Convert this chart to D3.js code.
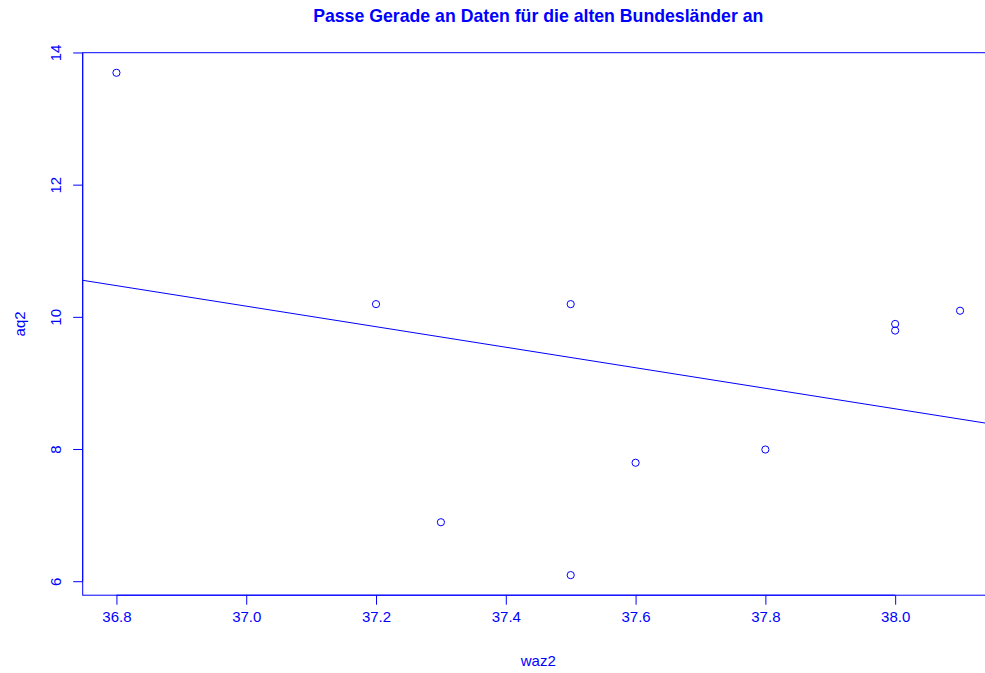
<!DOCTYPE html>
<html><head><meta charset="utf-8">
<script src="https://cdn.jsdelivr.net/npm/d3@7"></script>
<style>html,body{margin:0;padding:0;background:#fff;}svg{display:block;}</style>
</head><body>
<script>
const waz2 = [36.8, 37.2, 37.3, 37.5, 37.5, 37.6, 37.8, 38.0, 38.0, 38.1];
const aq2  = [13.7, 10.2, 6.9, 10.2, 6.1, 7.8, 8.0, 9.9, 9.8, 10.1];
const xTicks = [36.8, 37.0, 37.2, 37.4, 37.6, 37.8, 38.0];
const yTicks = [6, 8, 10, 12, 14];
const lineIntercept = 67.63;
const lineSlope = -1.553;
const titleText = "Passe Gerade an Daten für die alten Bundesländer an";
const xLabel = "waz2", yLabel = "aq2";

const W = 985, H = 673;
const L = 82.7, R = 993.8, T = 52.7, B = 595.2;
const col = "#0000ff";
const font = "Liberation Sans, Arial, Helvetica, sans-serif";

const svg = d3.select("body").append("svg").attr("width", W).attr("height", H);

const xr = d3.extent(waz2), yr = d3.extent(aq2);
const xd = [xr[0] - 0.04*(xr[1]-xr[0]), xr[1] + 0.04*(xr[1]-xr[0])];
const yd = [yr[0] - 0.04*(yr[1]-yr[0]), yr[1] + 0.04*(yr[1]-yr[0])];
const x = d3.scaleLinear().domain(xd).range([L, R]);
const y = d3.scaleLinear().domain(yd).range([B, T]);

// box
svg.append("rect").attr("x", L).attr("y", T).attr("width", R-L).attr("height", B-T)
  .attr("fill", "none").attr("stroke", col).attr("stroke-width", 1);

// axes
const xAxis = d3.axisBottom(x).tickValues(xTicks).tickSize(9.5).tickPadding(7).tickFormat(d3.format(".1f"));
const gx = svg.append("g").attr("transform", `translate(0,${B})`).call(xAxis);
gx.select(".domain").attr("d", `M${x(xTicks[0])},0H${x(xTicks[xTicks.length-1])}`);
gx.selectAll("line").attr("stroke", col);
gx.selectAll(".domain").attr("stroke", col);
gx.selectAll("text").attr("fill", col).style("font-family", font).style("font-size", "15px");

const yAxis = d3.axisLeft(y).tickValues(yTicks).tickSize(9.5).tickFormat(d3.format("d"));
const gy = svg.append("g").attr("transform", `translate(${L},0)`).call(yAxis);
gy.select(".domain").attr("d", `M0,${y(yTicks[0])}V${y(yTicks[yTicks.length-1])}`);
gy.selectAll("line").attr("stroke", col);
gy.selectAll(".domain").attr("stroke", col);
gy.selectAll("text").attr("fill", col).style("font-family", font).style("font-size", "15px")
  .attr("transform", d => `translate(${55.7 - L + 0},${y(d)}) rotate(-90)`)
  .attr("x", 0).attr("y", 0).attr("dy", "0.35em").attr("text-anchor", "middle");
gy.selectAll(".tick").attr("transform", null);
gy.selectAll(".tick line").attr("transform", d => `translate(0,${y(d)})`);

// points
svg.append("g").selectAll("circle").data(waz2.map((d,i)=>[d, aq2[i]])).join("circle")
  .attr("cx", d => x(d[0])).attr("cy", d => y(d[1])).attr("r", 3.6)
  .attr("fill", "none").attr("stroke", col).attr("stroke-width", 1);

// fitted line
svg.append("line")
  .attr("x1", x(xd[0])).attr("y1", y(lineIntercept + lineSlope*xd[0]))
  .attr("x2", x(xd[1])).attr("y2", y(lineIntercept + lineSlope*xd[1]))
  .attr("stroke", col).attr("stroke-width", 1);

// labels
const cx = (L+R)/2;
svg.append("text").attr("x", cx).attr("y", 16).attr("dy", "0.35em").attr("text-anchor", "middle")
  .attr("fill", col).style("font-family", font).style("font-weight", "bold").style("font-size", "17.7px").text(titleText);
svg.append("text").attr("x", cx).attr("y", 661).attr("dy", "0.35em").attr("text-anchor", "middle")
  .attr("fill", col).style("font-family", font).style("font-size", "15px").text(xLabel);
svg.append("text").attr("transform", `translate(20,${(T+B)/2}) rotate(-90)`).attr("dy", "0.35em").attr("text-anchor", "middle")
  .attr("fill", col).style("font-family", font).style("font-size", "15px").text(yLabel);
</script>
</body></html>
